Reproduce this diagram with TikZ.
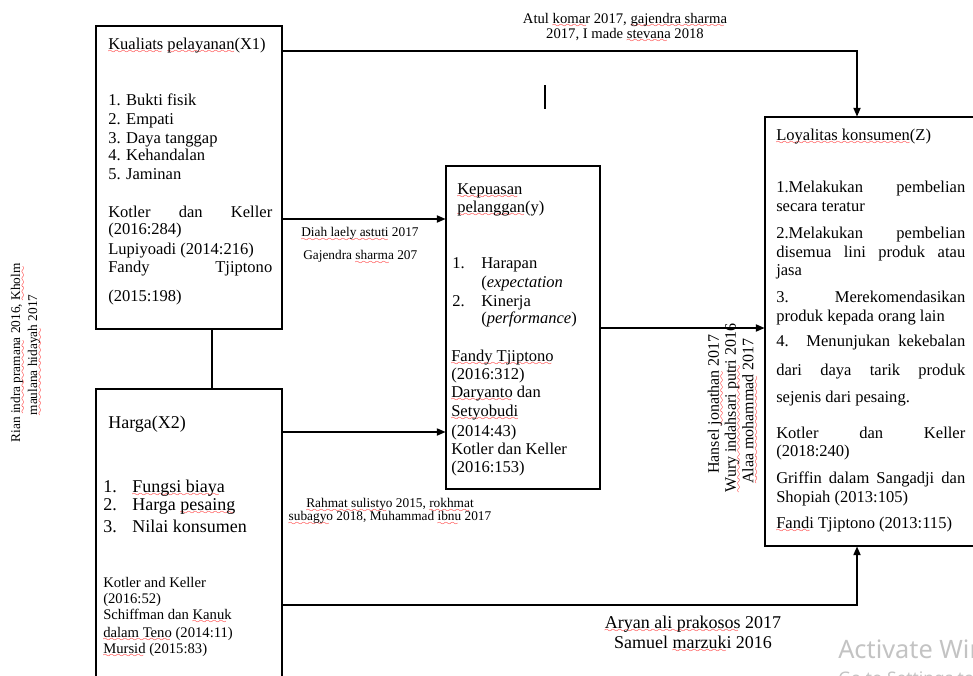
\documentclass[tikz,border=0pt]{standalone}
\usepackage{fontspec}
\setmainfont{Liberation Serif}
\newfontfamily\wmfont{Noto Sans}
\usetikzlibrary{arrows.meta,fit}
\font\sixly=lasy6
\newsavebox\sqbox
\newcommand\sq[1]{\sbox\sqbox{#1}\rlap{\smash{\lower3.5pt\hbox to\wd\sqbox{\color{red}\leaders\hbox{\sixly\char58}\hfill}}}\usebox\sqbox}
\definecolor{wm}{RGB}{195,195,195}
\tikzset{
  box/.style={draw, line width=0.8pt, inner sep=0pt},
  arr/.style={line width=0.8pt, -{Triangle[length=6.5pt,width=5.5pt]}},
  plain/.style={line width=0.8pt},
  txt/.style={inner sep=0pt, anchor=base west, font=\fontsize{12.4}{14}\selectfont},
  big/.style={font=\fontsize{13.5}{15}\selectfont},
  cite/.style={font=\fontsize{11}{12.5}\selectfont},
  lab/.style={inner sep=0pt, anchor=base, font=\fontsize{11}{12}\selectfont},
  small/.style={inner sep=0pt, font=\fontsize{10}{11}\selectfont},
  rot/.style={inner sep=0pt, anchor=center, rotate=90},
}
\newcommand\mytext[5][]{\node[txt,#1] (#2) at (#3,#4) {#5};}
\begin{document}
\begin{tikzpicture}[x=0.75pt,y=-0.75pt]
\useasboundingbox (0,0) rectangle (973,675);

% boxes
\node[box, fit={(96,26) (282,329)}] (x1) {};
\node[box, fit={(96,389) (282,720)}] (x2) {};
\node[box, fit={(446,166) (600,489)}] (y) {};
\node[box, fit={(765,117) (1000,546)}] (z) {};

% X1 text
\mytext{a0}{108}{49}{\sq{Kualiats} \sq{pelayanan}(X1)}
\mytext{a1}{108}{105}{1. Bukti fisik}
\mytext{a2}{108}{124}{2. Empati}
\mytext{a3}{108}{143}{3. Daya tanggap}
\mytext{a4}{108}{160}{4. Kehandalan}
\mytext{a5}{108}{179}{5. Jaminan}
\mytext{a6}{108}{217}{\makebox[123pt][s]{Kotler dan Keller}}
\mytext{a7}{108}{234}{(2016:284)}
\mytext{a8}{108}{254}{Lupiyoadi (2014:216)}
\mytext{a9}{108}{272}{\makebox[123pt][s]{Fandy Tjiptono}}
\mytext{a10}{108}{301}{(2015:198)}

% X2 text
\mytext[big]{b0}{108}{428}{Harga(X2)}
\mytext[big]{b1}{103}{492}{1.}
\mytext[big]{b1t}{132}{492}{\sq{Fungsi biaya}}
\mytext[big]{b2}{103}{510}{2.}
\mytext[big]{b2t}{132}{510}{Harga \sq{pesaing}}
\mytext[big]{b3}{103}{532}{3.}
\mytext[big]{b3t}{132}{532}{Nilai konsumen}
\mytext[cite]{b4}{103}{587}{Kotler and Keller}
\mytext[cite]{b5}{103}{603}{(2016:52)}
\mytext[cite]{b6}{103}{619}{Schiffman dan \sq{Kanuk}}
\mytext[cite]{b7}{103}{637}{\sq{dalam Teno} (2014:11)}
\mytext[cite]{b8}{103}{653}{\sq{Mursid} (2015:83)}

% Y text
\mytext{c0}{457}{194}{\sq{Kepuasan}}
\mytext{c1}{457}{212}{\sq{pelanggan}(y)}
\mytext{c2}{452}{268}{1.}
\mytext{c2t}{481}{268}{Harapan}
\mytext{c3}{481}{287}{(\textit{expectation}}
\mytext{c4}{452}{306}{2.}
\mytext{c4t}{481}{306}{Kinerja}
\mytext{c5}{481}{323}{(\textit{performance})}
\mytext{c6}{451}{361}{\sq{Fandy Tjiptono}}
\mytext{c7}{451}{379}{(2016:312)}
\mytext{c8}{451}{397}{\sq{Daryanto} dan}
\mytext{c9}{451}{416}{\sq{Setyobudi}}
\mytext{c10}{451}{436}{(2014:43)}
\mytext{c11}{451}{454}{Kotler dan Keller}
\mytext{c12}{451}{472}{(2016:153)}

% Z text
\mytext{d0}{776}{140}{\sq{Loyalitas konsumen}(Z)}
\mytext{d1}{776}{192}{\makebox[141.75pt][s]{1.Melakukan pembelian}}
\mytext{d2}{776}{211}{secara teratur}
\mytext{d3}{776}{238}{\makebox[141.75pt][s]{2.Melakukan pembelian}}
\mytext{d4}{776}{257}{\makebox[141.75pt][s]{disemua lini produk atau}}
\mytext{d5}{776}{275}{jasa}
\mytext{d6}{776}{302}{\makebox[141.75pt][s]{3. Merekomendasikan}}
\mytext{d7}{776}{321}{produk kepada orang lain}
\mytext{d8}{776}{346}{\makebox[141.75pt][s]{4. Menunjukan kekebalan}}
\mytext{d9}{776}{375}{\makebox[141.75pt][s]{dari daya tarik produk}}
\mytext{d10}{776}{402}{sejenis dari pesaing.}
\mytext{d11}{776}{438}{\makebox[141.75pt][s]{Kotler dan Keller}}
\mytext{d12}{776}{456}{(2018:240)}
\mytext{d13}{776}{483}{\makebox[141.75pt][s]{Griffin dalam Sangadji dan}}
\mytext{d14}{776}{502}{Shopiah (2013:105)}
\mytext{d15}{776}{528}{\sq{Fandi} Tjiptono (2013:115)}

% connector labels
\node[lab] (lb1) at (625,23) {Atul \sq{komar} 2017, \sq{gajendra sharma}};
\node[lab] (lb2) at (625,38) {2017, I made \sq{stevana} 2018};
\node[small, anchor=base west] (lb3) at (301,236.5) {\sq{Diah laely astuti} 2017};
\node[small, anchor=base west] (lb4) at (303,259.5) {Gajendra \sq{sharma} 207};
\node[small, anchor=base] (lb5) at (390,507.5) {\sq{Rahmat sulistyo} 2015, \sq{rokhmat}};
\node[small, anchor=base] (lb6) at (390,520.5) {\sq{subagyo} 2018, Muhammad \sq{ibnu} 2017};
\node[lab, font=\fontsize{13.5}{15}\selectfont] (lb7) at (693,628) {\sq{Aryan ali prakosos} 2017};
\node[lab, font=\fontsize{13.5}{15}\selectfont] (lb8) at (693,648) {Samuel \sq{marzuki} 2016};
\node[rot, font=\fontsize{10}{11}\selectfont] (lb9) at (17,353) {Rian \sq{indra pramana} 2016, \sq{Kholm}};
\node[rot, font=\fontsize{10}{11}\selectfont] (lb10) at (34,355) {\sq{maulana hidayah} 2017};
\node[rot, font=\fontsize{12}{13}\selectfont] (lb11) at (715,404) {Hansel \sq{jonathan} 2017};
\node[rot, font=\fontsize{12}{13}\selectfont] (lb12) at (732,408) {\sq{Wury indahsari putri} 2016};
\node[rot, font=\fontsize{12}{13}\selectfont] (lb13) at (748,411) {\sq{Alaa mohammad} 2017};

% connectors
\coordinate (r1) at (857,51);
\coordinate (h1) at (0,219);
\coordinate (h2) at (0,432);
\coordinate (h3) at (0,328);
\coordinate (r2) at (857,605);
\coordinate (v1) at (212,0);
\coordinate (k1) at (545,85);
\coordinate (k2) at (545,109);
\draw[arr] (x1.east |- r1) -| (z.north -| r1);
\draw[arr] (x1.east |- h1) -- (y.west |- h1);
\draw[arr] (x2.east |- h2) -- (y.west |- h2);
\draw[arr] (y.east |- h3) -- (z.west |- h3);
\draw[arr] (x2.east |- r2) -| (z.south -| r2);
\draw[plain] (x1.south -| v1) -- (x2.north -| v1);
\draw[plain] (k1) -- (k2);

% screen watermark
\node[inner sep=0pt, anchor=base west, text=wm, font=\wmfont\fontsize{19}{20}\selectfont] (wm1) at (838,658) {Activate Windows};
\node[inner sep=0pt, anchor=base west, text=wm, font=\wmfont\fontsize{13}{14}\selectfont] (wm2) at (838,684) {Go to Settings to activate Windows.};
\end{tikzpicture}
\end{document}
